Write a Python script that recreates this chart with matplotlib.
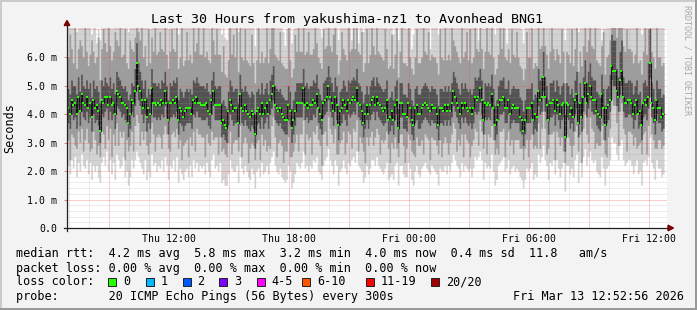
import numpy as np
import matplotlib.pyplot as plt
from matplotlib.patches import Rectangle, Polygon
from matplotlib.lines import Line2D
from matplotlib.transforms import Affine2D

plt.rcParams['font.family'] = 'DejaVu Sans Mono'

# smokeping data, one value per 5 minute step, in tenths of a millisecond
median = [
    42, 40, 45, 43, 44, 40, 46, 41, 47, 44, 43, 46, 42, 44, 39, 45, 42, 43, 41, 34,
    45, 44, 46, 46, 43, 46, 43, 44, 40, 48, 47, 46, 44, 44, 43, 42, 37, 40, 45, 44,
    48, 58, 50, 48, 45, 42, 45, 39, 42, 40, 49, 44, 44, 43, 44, 43, 45, 44, 48, 44,
    38, 44, 44, 45, 44, 46, 38, 42, 41, 39, 41, 42, 42, 42, 40, 45, 44, 46, 44, 44,
    43, 43, 43, 44, 41, 40, 45, 48, 43, 43, 43, 43, 37, 38, 36, 35, 41, 45, 43, 41,
    42, 42, 37, 47, 42, 41, 43, 41, 40, 39, 41, 40, 33, 41, 42, 40, 44, 40, 42, 44,
    40, 45, 47, 50, 43, 42, 41, 42, 40, 39, 38, 38, 43, 41, 35, 38, 41, 44, 44, 44,
    44, 49, 43, 44, 42, 43, 43, 45, 44, 47, 42, 40, 38, 44, 45, 46, 50, 46, 44, 41,
    46, 43, 36, 41, 42, 45, 43, 41, 45, 44, 45, 46, 45, 49, 44, 43, 41, 37, 40, 43,
    40, 43, 45, 46, 43, 46, 44, 43, 42, 41, 42, 45, 38, 39, 41, 38, 43, 45, 35, 44,
    44, 40, 40, 39, 44, 42, 38, 36, 42, 43, 40, 40, 42, 43, 44, 43, 42, 41, 43, 42,
    42, 40, 36, 42, 42, 41, 43, 41, 43, 41, 44, 48, 46, 44, 42, 40, 44, 42, 44, 42,
    41, 42, 40, 42, 46, 45, 46, 49, 45, 38, 44, 43, 44, 43, 47, 42, 36, 38, 43, 45,
    45, 46, 42, 42, 45, 40, 42, 43, 42, 42, 42, 39, 38, 34, 38, 42, 42, 42, 44, 38,
    40, 39, 48, 45, 46, 53, 46, 43, 38, 44, 44, 45, 41, 45, 43, 40, 43, 44, 32, 44,
    43, 40, 42, 39, 45, 47, 37, 44, 39, 46, 51, 44, 47, 50, 46, 45, 45, 41, 40, 39,
    47, 42, 36, 42, 43, 45, 57, 55, 55, 48, 46, 52, 55, 46, 44, 44, 45, 45, 44, 40,
    43, 45, 40, 41, 36, 44, 45, 43, 46, 58, 44, 42, 38, 45, 42, 42, 39, 40,
]
ping_min = [
    22, 19, 24, 21, 25, 18, 23, 20, 26, 22, 21, 24, 19, 23, 17, 22, 20, 22, 18, 16,
    23, 25, 22, 27, 20, 24, 19, 23, 17, 26, 24, 21, 22, 25, 18, 20, 15, 18, 24, 21,
    24, 27, 25, 23, 21, 19, 24, 17, 20, 18, 26, 22, 23, 20, 22, 21, 24, 20, 25, 22,
    17, 22, 21, 24, 20, 25, 16, 21, 19, 17, 20, 21, 18, 22, 18, 24, 21, 23, 20, 22,
    21, 22, 19, 23, 20, 18, 24, 26, 21, 22, 20, 23, 16, 17, 15, 15, 19, 24, 21, 20,
    20, 22, 16, 25, 21, 19, 22, 20, 18, 17, 21, 19, 14, 20, 21, 18, 23, 19, 20, 22,
    19, 23, 25, 27, 22, 20, 19, 21, 18, 17, 16, 17, 22, 20, 14, 16, 19, 23, 22, 21,
    23, 27, 21, 22, 20, 22, 21, 24, 23, 25, 20, 19, 17, 22, 24, 25, 28, 24, 22, 19,
    24, 22, 15, 20, 21, 24, 21, 19, 23, 22, 24, 25, 23, 27, 22, 21, 20, 16, 18, 22,
    19, 21, 24, 24, 22, 25, 22, 21, 20, 19, 21, 23, 17, 18, 19, 17, 22, 23, 15, 22,
    22, 19, 18, 18, 23, 21, 17, 15, 20, 22, 19, 18, 21, 22, 23, 21, 20, 19, 22, 21,
    20, 19, 15, 21, 20, 20, 22, 19, 22, 20, 23, 26, 24, 22, 21, 18, 23, 20, 22, 21,
    20, 21, 18, 21, 25, 24, 25, 27, 24, 17, 23, 21, 22, 21, 26, 20, 15, 17, 22, 23,
    24, 25, 20, 21, 24, 19, 21, 22, 20, 21, 20, 18, 17, 14, 17, 21, 20, 21, 23, 17,
    19, 18, 26, 23, 25, 29, 24, 22, 17, 23, 22, 24, 19, 24, 21, 18, 21, 23, 13, 22,
    22, 19, 21, 18, 24, 26, 16, 23, 18, 25, 28, 22, 25, 27, 24, 23, 24, 20, 19, 18,
    25, 21, 15, 21, 22, 24, 32, 30, 30, 26, 24, 29, 31, 24, 22, 23, 24, 24, 22, 19,
    22, 24, 19, 20, 15, 23, 24, 22, 25, 32, 23, 21, 17, 24, 21, 21, 18, 19,
]
ping_p4 = [
    31, 24, 33, 32, 29, 28, 34, 30, 35, 27, 31, 35, 30, 27, 28, 34, 31, 26, 29, 25,
    34, 33, 28, 36, 31, 35, 25, 33, 29, 37, 29, 34, 32, 34, 24, 31, 27, 29, 34, 27,
    36, 40, 37, 29, 34, 31, 34, 29, 26, 30, 37, 33, 27, 32, 33, 32, 28, 33, 36, 33,
    28, 27, 33, 34, 32, 35, 28, 31, 24, 29, 30, 31, 25, 32, 29, 34, 27, 35, 33, 33,
    32, 32, 25, 33, 30, 29, 34, 31, 32, 32, 26, 32, 27, 28, 26, 25, 30, 34, 26, 30,
    31, 31, 27, 36, 25, 30, 32, 30, 23, 28, 30, 29, 24, 30, 31, 24, 33, 29, 31, 27,
    29, 28, 36, 39, 32, 25, 30, 31, 29, 23, 27, 27, 32, 25, 25, 27, 30, 33, 27, 33,
    33, 38, 26, 33, 31, 32, 26, 34, 33, 36, 31, 29, 22, 33, 34, 29, 39, 35, 33, 30,
    35, 26, 26, 30, 31, 34, 26, 30, 34, 33, 28, 35, 34, 38, 27, 32, 30, 27, 23, 32,
    29, 32, 34, 29, 32, 35, 33, 26, 31, 30, 31, 34, 28, 23, 30, 28, 32, 28, 25, 33,
    33, 29, 23, 28, 33, 31, 27, 26, 25, 32, 29, 29, 31, 26, 33, 32, 31, 24, 32, 31,
    31, 29, 26, 31, 25, 30, 32, 30, 26, 30, 33, 37, 35, 27, 31, 29, 33, 25, 33, 31,
    30, 25, 29, 31, 35, 34, 29, 38, 34, 28, 33, 26, 33, 32, 36, 31, 26, 28, 26, 34,
    34, 35, 25, 31, 34, 29, 31, 26, 31, 31, 31, 28, 28, 24, 28, 31, 25, 31, 33, 28,
    29, 28, 37, 28, 35, 41, 35, 26, 28, 33, 33, 34, 24, 34, 32, 29, 32, 27, 23, 33,
    32, 29, 25, 29, 34, 36, 27, 33, 23, 35, 40, 33, 30, 39, 35, 34, 28, 30, 29, 29,
    36, 31, 26, 25, 32, 35, 45, 43, 43, 37, 29, 41, 44, 35, 33, 27, 34, 34, 33, 29,
    32, 28, 29, 30, 26, 33, 34, 26, 36, 46, 33, 31, 28, 28, 31, 31, 28, 29,
]
ping_p8 = [
    37, 35, 40, 38, 39, 35, 41, 36, 41, 39, 38, 41, 37, 39, 34, 40, 37, 38, 36, 30,
    40, 39, 41, 42, 38, 41, 38, 40, 35, 43, 42, 41, 39, 40, 38, 37, 32, 35, 41, 39,
    43, 50, 45, 43, 40, 37, 40, 34, 37, 35, 44, 39, 39, 38, 39, 38, 40, 39, 43, 39,
    33, 39, 39, 40, 39, 41, 33, 37, 36, 34, 36, 37, 37, 37, 35, 40, 39, 41, 39, 39,
    38, 38, 38, 39, 36, 35, 40, 43, 38, 38, 38, 38, 32, 33, 31, 30, 36, 40, 38, 36,
    37, 37, 32, 42, 37, 36, 38, 36, 35, 34, 36, 35, 28, 36, 37, 35, 39, 35, 37, 39,
    35, 40, 42, 45, 38, 37, 36, 37, 35, 34, 33, 33, 38, 36, 30, 33, 36, 39, 39, 39,
    39, 44, 38, 39, 37, 38, 38, 40, 39, 42, 37, 35, 33, 39, 40, 41, 45, 41, 39, 36,
    41, 38, 31, 36, 37, 40, 38, 36, 40, 39, 40, 41, 40, 44, 39, 38, 36, 32, 35, 38,
    35, 38, 40, 41, 38, 41, 39, 38, 37, 36, 37, 40, 33, 34, 36, 33, 38, 40, 30, 39,
    39, 35, 35, 34, 39, 37, 33, 31, 37, 38, 35, 35, 37, 38, 39, 38, 37, 36, 38, 37,
    37, 35, 31, 37, 37, 36, 38, 36, 38, 36, 39, 43, 41, 39, 37, 35, 39, 37, 39, 37,
    36, 37, 35, 37, 41, 40, 41, 44, 40, 33, 39, 38, 39, 38, 42, 37, 31, 33, 38, 40,
    40, 41, 37, 37, 40, 35, 37, 38, 37, 37, 37, 34, 33, 29, 33, 37, 37, 37, 39, 33,
    35, 34, 43, 40, 41, 48, 41, 38, 33, 39, 39, 40, 36, 40, 38, 35, 38, 39, 27, 39,
    38, 35, 37, 34, 40, 42, 32, 39, 34, 41, 46, 39, 42, 45, 41, 40, 40, 36, 35, 34,
    42, 37, 31, 37, 38, 41, 52, 50, 50, 43, 41, 47, 50, 41, 39, 39, 40, 40, 39, 35,
    38, 40, 35, 36, 31, 39, 40, 38, 42, 53, 39, 37, 33, 40, 37, 37, 34, 35,
]
ping_p13 = [
    49, 47, 52, 50, 50, 47, 53, 48, 54, 50, 49, 52, 49, 51, 46, 52, 49, 50, 48, 44,
    52, 50, 53, 51, 50, 53, 49, 51, 47, 55, 53, 52, 50, 49, 50, 48, 45, 47, 51, 50,
    56, 65, 58, 55, 52, 49, 52, 46, 49, 47, 56, 51, 51, 50, 51, 49, 52, 51, 55, 50,
    45, 51, 50, 52, 51, 53, 45, 49, 48, 46, 48, 49, 48, 49, 47, 52, 51, 53, 51, 50,
    50, 50, 49, 51, 48, 47, 52, 55, 50, 49, 50, 50, 44, 45, 43, 42, 48, 52, 50, 48,
    49, 49, 44, 54, 49, 48, 50, 48, 47, 46, 48, 47, 40, 48, 49, 47, 51, 47, 49, 51,
    47, 52, 54, 57, 50, 49, 48, 49, 47, 46, 45, 45, 50, 48, 42, 45, 48, 51, 51, 51,
    51, 56, 50, 51, 49, 50, 50, 52, 51, 54, 49, 47, 45, 51, 52, 53, 57, 53, 51, 48,
    53, 50, 43, 48, 49, 52, 50, 48, 52, 51, 52, 53, 52, 56, 51, 50, 48, 44, 47, 50,
    47, 50, 52, 53, 50, 53, 51, 50, 49, 48, 49, 52, 45, 46, 48, 45, 50, 52, 42, 51,
    51, 47, 47, 46, 51, 49, 45, 43, 49, 50, 47, 47, 49, 50, 51, 50, 49, 48, 50, 49,
    49, 47, 43, 49, 49, 48, 50, 48, 50, 48, 51, 55, 53, 51, 49, 47, 51, 49, 51, 49,
    48, 49, 47, 49, 53, 52, 53, 56, 52, 45, 51, 50, 51, 50, 54, 49, 43, 45, 50, 52,
    52, 53, 49, 49, 52, 47, 49, 50, 49, 49, 49, 46, 45, 41, 45, 49, 49, 49, 51, 45,
    47, 46, 56, 52, 53, 62, 53, 50, 45, 51, 51, 52, 48, 52, 50, 47, 50, 51, 40, 51,
    50, 47, 49, 46, 52, 55, 44, 51, 46, 53, 59, 51, 55, 58, 53, 52, 52, 48, 47, 46,
    54, 49, 43, 49, 50, 54, 68, 66, 66, 56, 53, 62, 66, 53, 51, 51, 52, 52, 51, 47,
    50, 52, 47, 48, 43, 51, 52, 50, 58, 70, 51, 49, 45, 52, 49, 49, 46, 47,
]
ping_p17 = [
    60, 68, 63, 58, 72, 56, 63, 66, 64, 60, 71, 62, 57, 61, 66, 62, 58, 60, 67, 52,
    63, 70, 65, 62, 71, 64, 59, 62, 69, 66, 64, 74, 60, 61, 70, 58, 56, 66, 63, 62,
    67, 80, 69, 66, 72, 60, 64, 57, 70, 58, 67, 62, 73, 61, 62, 69, 63, 62, 74, 61,
    56, 62, 70, 63, 62, 75, 56, 60, 72, 57, 59, 69, 59, 61, 58, 74, 62, 65, 71, 61,
    61, 72, 60, 62, 59, 58, 73, 66, 61, 70, 61, 61, 55, 64, 54, 53, 59, 74, 61, 68,
    60, 71, 55, 74, 60, 59, 70, 59, 58, 57, 68, 58, 51, 59, 71, 58, 62, 58, 60, 72,
    58, 63, 74, 77, 61, 60, 59, 69, 58, 57, 56, 56, 72, 59, 53, 56, 68, 62, 71, 62,
    62, 77, 61, 62, 69, 61, 61, 63, 72, 65, 60, 58, 56, 70, 63, 64, 78, 64, 62, 68,
    73, 61, 54, 59, 69, 63, 61, 59, 72, 62, 63, 74, 63, 77, 62, 61, 69, 55, 58, 70,
    58, 61, 72, 64, 61, 74, 62, 61, 60, 59, 70, 63, 56, 57, 68, 56, 61, 73, 53, 62,
    72, 58, 58, 57, 71, 60, 56, 54, 60, 70, 58, 58, 60, 72, 62, 61, 69, 59, 61, 60,
    60, 58, 54, 70, 60, 59, 71, 59, 61, 59, 72, 66, 64, 62, 60, 58, 71, 60, 62, 69,
    59, 70, 58, 60, 74, 63, 62, 77, 63, 56, 62, 71, 62, 61, 75, 60, 54, 56, 61, 73,
    63, 74, 60, 59, 63, 58, 70, 61, 60, 69, 60, 57, 56, 52, 56, 69, 60, 60, 72, 56,
    58, 57, 77, 63, 64, 80, 64, 61, 56, 62, 71, 63, 59, 63, 61, 58, 70, 62, 51, 62,
    61, 58, 70, 57, 63, 75, 55, 62, 57, 64, 80, 62, 66, 78, 64, 63, 72, 59, 58, 57,
    64, 69, 54, 60, 61, 66, 80, 78, 77, 67, 74, 74, 78, 64, 62, 70, 63, 63, 62, 58,
    61, 72, 58, 59, 54, 62, 72, 61, 70, 82, 62, 60, 56, 72, 60, 60, 57, 58,
]
ping_max = [
    78, 72, 80, 75, 76, 69, 82, 74, 77, 79, 73, 80, 71, 78, 68, 81, 75, 65, 70, 66,
    81, 76, 84, 72, 79, 83, 70, 78, 74, 88, 80, 77, 73, 79, 76, 71, 69, 72, 80, 78,
    86, 95, 84, 80, 78, 73, 82, 71, 75, 70, 85, 77, 79, 74, 76, 72, 81, 75, 83, 76,
    70, 79, 76, 83, 77, 85, 68, 74, 80, 71, 75, 78, 73, 81, 72, 84, 77, 82, 79, 75,
    77, 80, 74, 79, 73, 70, 82, 86, 76, 78, 75, 79, 68, 72, 67, 66, 74, 81, 77, 73,
    76, 79, 69, 84, 75, 73, 80, 74, 72, 71, 77, 73, 64, 76, 78, 70, 81, 73, 75, 80,
    73, 80, 84, 87, 77, 75, 72, 78, 71, 69, 64, 70, 79, 74, 65, 70, 76, 80, 78, 77,
    79, 86, 75, 80, 74, 77, 76, 82, 78, 84, 73, 70, 67, 79, 81, 80, 88, 83, 78, 72,
    82, 78, 66, 74, 76, 81, 79, 72, 80, 77, 66, 83, 80, 86, 65, 78, 75, 69, 71, 79,
    74, 77, 81, 83, 75, 82, 79, 76, 73, 72, 78, 80, 70, 71, 76, 68, 79, 82, 66, 78,
    80, 73, 72, 70, 79, 77, 63, 68, 76, 78, 72, 74, 77, 80, 79, 76, 75, 63, 78, 76,
    77, 74, 68, 78, 75, 76, 79, 73, 80, 74, 81, 85, 82, 79, 75, 71, 80, 76, 79, 75,
    76, 78, 73, 77, 83, 81, 66, 86, 80, 70, 79, 77, 80, 76, 84, 78, 68, 71, 77, 82,
    81, 83, 77, 65, 80, 73, 78, 79, 76, 77, 75, 72, 70, 65, 71, 78, 76, 79, 80, 70,
    75, 73, 86, 80, 82, 92, 81, 78, 71, 79, 78, 81, 75, 80, 77, 73, 78, 80, 66, 79,
    78, 74, 77, 72, 81, 84, 69, 79, 73, 82, 90, 80, 85, 88, 82, 79, 81, 76, 74, 72,
    66, 77, 70, 78, 79, 85, 99, 96, 95, 86, 82, 93, 97, 81, 78, 80, 81, 79, 78, 74,
    78, 81, 75, 77, 68, 80, 82, 78, 90, 99, 79, 77, 71, 81, 76, 78, 72, 74,
]

# first sample at Thu 06:55, hours counted from Thu 00:00
start = 6 + 55 / 60
step = 5 / 60

tick_pos = [12, 18, 24, 30, 36]
tick_labels = ['Thu 12:00', 'Thu 18:00', 'Fri 00:00', 'Fri 06:00', 'Fri 12:00']
ytick_labels = ['0.0', '1.0 m', '2.0 m', '3.0 m', '4.0 m', '5.0 m', '6.0 m']

loss_labels = ['0', '1', '2', '3', '4-5', '6-10', '11-19', '20/20']
loss_colors = ['#26ff00', '#00b8ff', '#0059ff', '#7e00ff', '#ff00ff', '#ff5500', '#ff0000', '#a00000']
loss_box_x = [108, 145.5, 182.5, 219, 256.5, 302, 365.5, 431]

title = 'Last 30 Hours from yakushima-nz1 to Avonhead BNG1'
rtt_line = 'median rtt:  4.2 ms avg  5.8 ms max  3.2 ms min  4.0 ms now  0.4 ms sd  11.8   am/s'
loss_line = 'packet loss: 0.00 % avg  0.00 % max  0.00 % min  0.00 % now'
probe_line = 'probe:       20 ICMP Echo Pings (56 Bytes) every 300s'
stamp = 'Fri Mar 13 12:52:56 2026'

W, H = 697, 310
fig = plt.figure(figsize=(W / 100, H / 100), dpi=100)
fig.patch.set_facecolor('#f3f3f3')
# pixel coordinates, origin top left
px = Affine2D().scale(1 / W, -1 / H).translate(0, 1) + fig.transFigure

ax = fig.add_axes([67 / W, 1 - 228 / H, 600 / W, 200 / H])
ax.set_facecolor('white')

n = len(median)
edges = start + np.arange(n + 1) * step


def ext(a):
    a = np.asarray(a) / 10
    return np.append(a, a[-1])


# smoke
ax.fill_between(edges, ext(ping_min), ext(ping_max), step='post', color='#d3d3d3', lw=0, zorder=1)
ax.fill_between(edges, ext(ping_p4), ext(ping_p17), step='post', color='#9d9d9d', lw=0, zorder=2)
ax.fill_between(edges, ext(ping_p8), ext(ping_p13), step='post', color='#525252', lw=0, zorder=3)

# median
ax.step(edges, ext(median), where='post', color='#141414', lw=0.8, zorder=4)
ax.plot(edges[:-1] + step / 2, np.asarray(median) / 10, ls='none', marker='s', ms=2.1,
        mew=0, color=loss_colors[0], zorder=6)

ax.set_xlim(6.9, 36.9)
ax.set_ylim(0, 7.02)

# dotted grid on top of the graph
dots = (0, (1, 1))
for h in range(7, 37):
    if h % 3:
        ax.axvline(h, color='#a0a0a0', lw=0.72, ls=dots, alpha=0.4, zorder=5)
    else:
        ax.axvline(h, color='#e85050', lw=0.72, ls=dots, alpha=0.55, zorder=5)
for k in range(1, 36):
    if k % 5:
        ax.axhline(k / 5, color='#a0a0a0', lw=0.72, ls=dots, alpha=0.4, zorder=5)
    else:
        ax.axhline(k / 5, color='#e85050', lw=0.72, ls=dots, alpha=0.55, zorder=5)

for s in ax.spines.values():
    s.set_visible(False)
ax.set_xticks(tick_pos)
ax.set_xticklabels(tick_labels)
ax.set_yticks(range(7))
ax.set_yticklabels(ytick_labels)
ax.tick_params(axis='x', length=0, pad=4, labelsize=7.1)
ax.tick_params(axis='y', length=2.2, width=0.72, color='#e08080', pad=5, labelsize=7.1)

# axes and arrows
fig.add_artist(Line2D([67, 67], [231, 25], transform=px, color='#202020', lw=0.9))
fig.add_artist(Line2D([64, 668], [228, 228], transform=px, color='#202020', lw=0.9))
fig.add_artist(Polygon([[64.2, 25.5], [69.8, 25.5], [67, 20.5]], transform=px, color='#7f0000'))
fig.add_artist(Polygon([[668, 225.2], [668, 230.8], [673.5, 228]], transform=px, color='#7f0000'))

# frame
fig.add_artist(Rectangle((0, 0), W, 2, transform=px, color='#cbcbcb', lw=0))
fig.add_artist(Rectangle((0, 0), 2, H, transform=px, color='#cbcbcb', lw=0))
fig.add_artist(Rectangle((0, H - 2), W, 2, transform=px, color='#999999', lw=0))
fig.add_artist(Rectangle((W - 2, 0), 2, H, transform=px, color='#999999', lw=0))

fig.text(347, 19.3, title, transform=px, ha='center', va='center', fontsize=9.6)
fig.text(10, 128, 'Seconds', transform=px, ha='center', va='center', rotation=90, fontsize=8.5)
fig.text(687, 5, 'RRDTOOL / TOBI OETIKER', transform=px, ha='center', va='top',
         rotation=270, fontsize=6, color='#a8a8a8')

# legend
fig.text(16, 254, rtt_line, transform=px, va='center', fontsize=8.5)
fig.text(16, 268.3, loss_line, transform=px, va='center', fontsize=8.5)
fig.text(16, 281.7, 'loss color:', transform=px, va='center', fontsize=8.5)
for bx, lab, col in zip(loss_box_x, loss_labels, loss_colors):
    fig.add_artist(Rectangle((bx, 277.7), 8, 8, transform=px, facecolor=col,
                             edgecolor='#202020', lw=0.7))
    fig.text(bx + 15, 281.7, lab, transform=px, va='center', fontsize=8.5)
fig.text(16, 296.7, probe_line, transform=px, va='center', fontsize=8.5)
fig.text(513, 296.7, stamp, transform=px, va='center', fontsize=8.5)

fig.savefig('out.png', dpi=100, facecolor=fig.get_facecolor())
